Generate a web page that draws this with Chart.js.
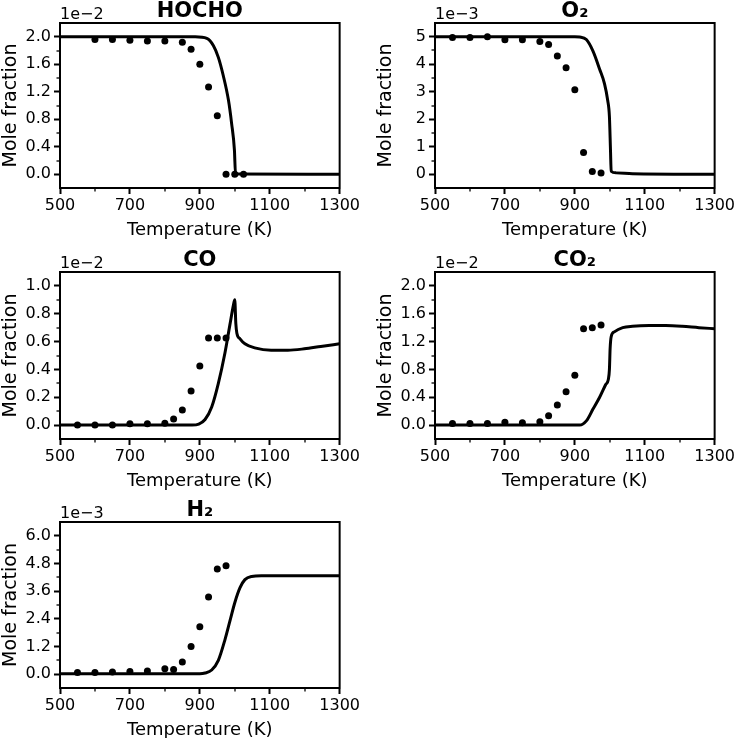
<!DOCTYPE html>
<html>
<head>
<meta charset="utf-8">
<script src="https://cdn.jsdelivr.net/npm/chart.js@4.4.0/dist/chart.umd.min.js"></script>
<style>
  html, body { margin: 0; padding: 0; background: #fff; }
  #wrap { position: relative; width: 738px; height: 738px; overflow: hidden; }
  #wrap canvas { position: absolute; }
</style>
</head>
<body>
<div id="wrap">
  <canvas id="hocho"></canvas>
  <canvas id="o2"></canvas>
  <canvas id="co"></canvas>
  <canvas id="co2"></canvas>
  <canvas id="h2"></canvas>
</div>
<script>
// x axis shared by every panel
const xTicks = [500, 700, 900, 1100, 1300];

// experiment temperatures (K)
const expT = [550, 600, 650, 700, 750, 800, 825, 850, 875, 900, 925, 950, 975];
const hochoExpT = [600, 650, 700, 750, 800, 850, 875, 900, 925, 950, 975, 1000, 1025];

// HOCHO (x 1e-2)
const hochoExpY = [1.96, 1.96, 1.95, 1.94, 1.94, 1.92, 1.82, 1.60, 1.27, 0.85, 0.0, 0.0, 0.0];
const hochoModelT = [500, 850, 887, 920, 939, 953, 967, 982, 991, 999, 1002, 1010, 1300];
const hochoModelY = [2.0, 2.0, 2.0, 1.976, 1.87, 1.70, 1.436, 1.075, 0.737, 0.35, 0.01, 0.005, 0.0];
const hochoYTicks = ['0.0', '0.4', '0.8', '1.2', '1.6', '2.0'];

// O2 (x 1e-3)
const o2ExpY = [4.97, 4.97, 5.0, 4.89, 4.89, 4.83, 4.72, 4.30, 3.87, 3.07, 0.79, 0.10, 0.05];
const o2ModelT = [500, 900, 914, 933, 952, 971, 985, 994, 999, 1002, 1004, 1018, 1065, 1300];
const o2ModelY = [5.0, 5.0, 4.99, 4.9, 4.48, 3.82, 3.29, 2.69, 2.09, 0.89, 0.11, 0.05, 0.02, 0.0];
const o2YTicks = ['0', '1', '2', '3', '4', '5'];

// CO (x 1e-2)
const coExpY = [0.0, 0.0, 0.0, 0.01, 0.01, 0.014, 0.043, 0.108, 0.245, 0.425, 0.625, 0.625, 0.625];
const coModelT = [500, 878, 897, 915, 934, 953, 972, 986, 996, 1000, 1003, 1006, 1015, 1029, 1057, 1104, 1152, 1199, 1246, 1300];
const coModelY = [0.0, 0.0, 0.007, 0.04, 0.13, 0.30, 0.52, 0.72, 0.86, 0.90, 0.73, 0.66, 0.62, 0.584, 0.555, 0.538, 0.538, 0.548, 0.565, 0.584];
const coYTicks = ['0.0', '0.2', '0.4', '0.6', '0.8', '1.0'];

// CO2 (x 1e-2)
const co2ExpY = [0.024, 0.024, 0.024, 0.04, 0.034, 0.048, 0.135, 0.29, 0.48, 0.716, 1.385, 1.40, 1.44];
const co2ModelT = [500, 914, 933, 952, 971, 988, 996, 999, 1001, 1004, 1013, 1037, 1065, 1113, 1160, 1207, 1255, 1300];
const co2ModelY = [0.0, 0.0, 0.06, 0.23, 0.40, 0.58, 0.66, 0.80, 1.10, 1.27, 1.34, 1.40, 1.42, 1.43, 1.43, 1.42, 1.40, 1.385];
const co2YTicks = ['0.0', '0.4', '0.8', '1.2', '1.6', '2.0'];

// H2 (x 1e-3)
const h2ExpY = [0.07, 0.07, 0.09, 0.115, 0.14, 0.23, 0.20, 0.53, 1.20, 2.06, 3.35, 4.56, 4.70];
const h2ModelT = [500, 900, 915, 934, 953, 972, 986, 1000, 1015, 1029, 1048, 1076, 1300];
const h2ModelY = [0.02, 0.02, 0.05, 0.18, 0.60, 1.50, 2.30, 3.10, 3.75, 4.10, 4.24, 4.27, 4.27];
const h2YTicks = ['0.0', '1.2', '2.4', '3.6', '4.8', '6.0'];

Chart.defaults.font.family = '"DejaVu Sans", sans-serif';
Chart.defaults.color = '#000';

// plot-area rectangles on the page: [left, top, right, bottom]
const panels = [
  { id: 'hocho', title: 'HOCHO', offset: '1e\u22122', box: [60, 23, 342, 188], yMin: -0.2, yMax: 2.2,
    yTicks: hochoYTicks, expT: hochoExpT, expY: hochoExpY, modT: hochoModelT, modY: hochoModelY },
  { id: 'o2', title: 'O\u2082', offset: '1e\u22123', box: [435, 23, 717, 188], yMin: -0.5, yMax: 5.5,
    yTicks: o2YTicks, expT: expT, expY: o2ExpY, modT: o2ModelT, modY: o2ModelY },
  { id: 'co', title: 'CO', offset: '1e\u22122', box: [60, 272, 342, 439], yMin: -0.1, yMax: 1.1,
    yTicks: coYTicks, expT: expT, expY: coExpY, modT: coModelT, modY: coModelY },
  { id: 'co2', title: 'CO\u2082', offset: '1e\u22122', box: [435, 272, 717, 439], yMin: -0.2, yMax: 2.2,
    yTicks: co2YTicks, expT: expT, expY: co2ExpY, modT: co2ModelT, modY: co2ModelY },
  { id: 'h2', title: 'H\u2082', offset: '1e\u22123', box: [60, 522, 342, 688], yMin: -0.6, yMax: 6.6,
    yTicks: h2YTicks, expT: expT, expY: h2ExpY, modT: h2ModelT, modY: h2ModelY }
];

const Y_W = 60, X_H = 55, PAD_T = 23, PAD_R = 20;

// box frame, minor ticks, bold title and the offset text
const framePlugin = {
  id: 'frame',
  afterDraw(chart, args, opts) {
    const { ctx, chartArea: a, scales } = chart;
    ctx.save();
    ctx.strokeStyle = '#000';
    ctx.lineWidth = 2;
    ctx.strokeRect(a.left, a.top, a.right - a.left, a.bottom - a.top);

    ctx.lineWidth = 1.3;
    const xt = scales.x.ticks.map(t => t.value);
    for (let i = 0; i < xt.length - 1; i++) {
      const px = Math.round(scales.x.getPixelForValue((xt[i] + xt[i + 1]) / 2));
      ctx.beginPath(); ctx.moveTo(px, a.bottom); ctx.lineTo(px, a.bottom + 3.5); ctx.stroke();
    }
    const yt = scales.y.ticks.map(t => t.value);
    const step = yt[1] - yt[0];
    const ys = [yt[0] - step / 2];
    for (let i = 0; i < yt.length; i++) ys.push(yt[i] + step / 2);
    ys.forEach(v => {
      if (v <= scales.y.min || v >= scales.y.max) return;
      const py = Math.round(scales.y.getPixelForValue(v));
      ctx.beginPath(); ctx.moveTo(a.left, py); ctx.lineTo(a.left - 3.5, py); ctx.stroke();
    });

    ctx.fillStyle = '#000';
    ctx.textBaseline = 'alphabetic';
    ctx.font = 'bold 21px "DejaVu Sans"';
    ctx.textAlign = 'center';
    ctx.fillText(opts.title, (a.left + a.right) / 2, a.top - 6);
    ctx.font = '16px "DejaVu Sans"';
    ctx.textAlign = 'left';
    ctx.fillText(opts.offset, a.left, a.top - 4);
    ctx.restore();
  }
};

panels.forEach(p => {
  const [x0, y0, x1, y1] = p.box;
  const cv = document.getElementById(p.id);
  cv.width = (x1 - x0) + Y_W + PAD_R;
  cv.height = (y1 - y0) + PAD_T + X_H;
  cv.style.left = (x0 - Y_W) + 'px';
  cv.style.top = (y0 - PAD_T) + 'px';

  new Chart(cv, {
    type: 'scatter',
    data: {
      datasets: [
        {
          label: 'experiment',
          data: p.expT.map((t, i) => ({ x: t, y: p.expY[i] })),
          pointRadius: 3.5,
          pointBackgroundColor: '#000',
          pointBorderWidth: 0,
          showLine: false
        },
        {
          label: 'model',
          data: p.modT.map((t, i) => ({ x: t, y: p.modY[i] })),
          showLine: true,
          pointRadius: 0,
          borderColor: '#000',
          borderWidth: 3,
          cubicInterpolationMode: 'monotone'
        }
      ]
    },
    options: {
      responsive: false,
      animation: false,
      layout: { padding: { top: PAD_T, right: PAD_R, left: 0, bottom: 0 } },
      plugins: {
        legend: { display: false },
        tooltip: { enabled: false },
        frame: { title: p.title, offset: p.offset }
      },
      scales: {
        x: {
          type: 'linear',
          min: 500,
          max: 1300,
          afterBuildTicks: s => { s.ticks = xTicks.map(v => ({ value: v })); },
          afterFit: s => { s.height = X_H; },
          ticks: { font: { size: 16 }, color: '#000', autoSkip: false, maxRotation: 0, padding: 2,
                   callback: (v, i) => String(xTicks[i]) },
          grid: { drawOnChartArea: false, drawTicks: true, tickLength: 6, tickWidth: 2, tickColor: '#000' },
          border: { display: true, color: '#000', width: 2 },
          title: { display: true, text: 'Temperature (K)', font: { size: 18 }, color: '#000', padding: { top: 0, bottom: 2 } }
        },
        y: {
          type: 'linear',
          min: p.yMin,
          max: p.yMax,
          afterBuildTicks: s => { s.ticks = p.yTicks.map(v => ({ value: parseFloat(v) })); },
          afterFit: s => { s.width = Y_W; },
          ticks: { font: { size: 16 }, color: '#000', autoSkip: false, padding: 3,
                   callback: (v, i) => p.yTicks[i] },
          grid: { drawOnChartArea: false, drawTicks: true, tickLength: 6, tickWidth: 2, tickColor: '#000' },
          border: { display: true, color: '#000', width: 2 },
          title: { display: true, text: 'Mole fraction', font: { size: 19 }, color: '#000', padding: { top: 0, bottom: 2 } }
        }
      }
    },
    plugins: [framePlugin]
  });
});
</script>
</body>
</html>
